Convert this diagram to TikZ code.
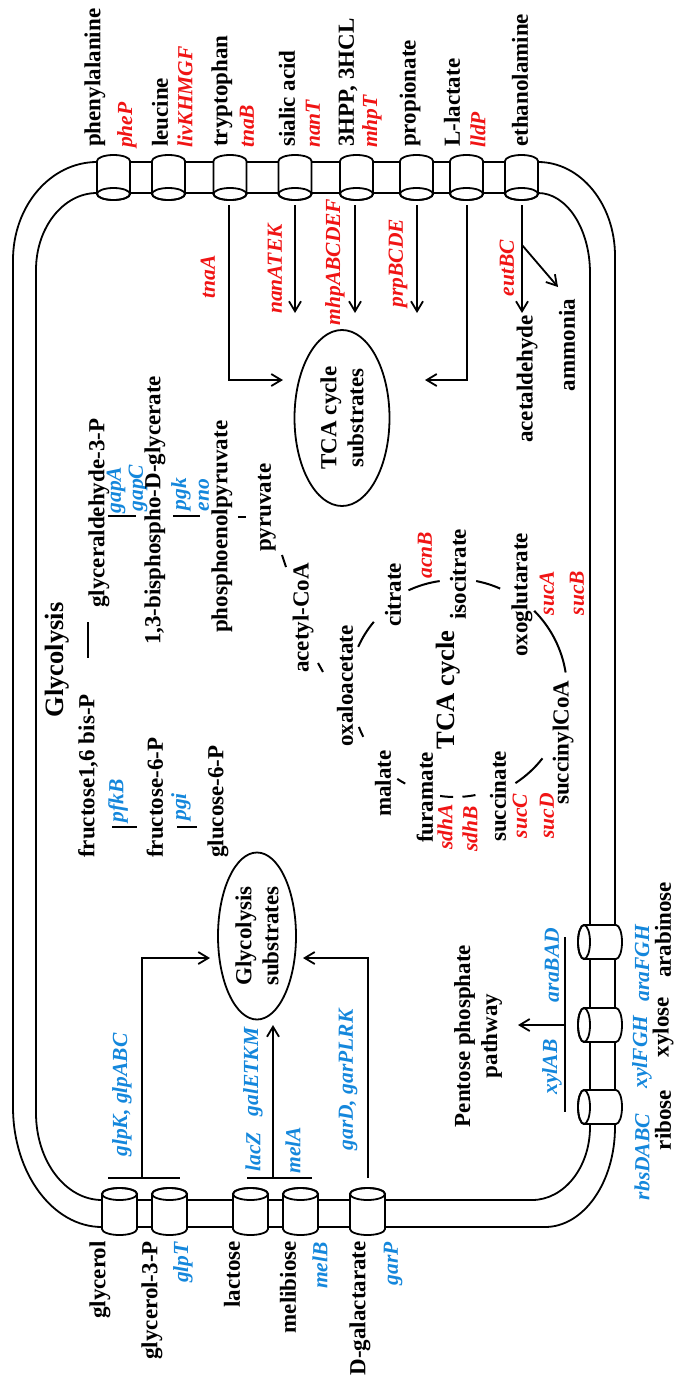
\documentclass[tikz,border=0pt]{standalone}
\usepackage{fontspec}
\setmainfont{Liberation Serif}
\usetikzlibrary{arrows.meta,shapes.geometric,calc}
\definecolor{gred}{RGB}{240,20,20}
\definecolor{gblue}{RGB}{20,135,220}
\newcommand\fName{\fontsize{23}{27}\selectfont\bfseries}
\newcommand\fGene{\fontsize{21.5}{25}\selectfont\bfseries\itshape}
\newcommand\fTitle{\fontsize{26.5}{30}\selectfont\bfseries}
\tikzset{
  memb/.style={line width=1.8pt},
  arr/.style={line width=1.8pt,-{Straight Barb[length=10pt,width=12pt]}},
  bar/.style={line width=2.2pt},
  tick/.style={line width=2pt},
  lbl/.style={rotate=90,inner sep=0pt,font=\fName},
  gene/.style={rotate=90,inner sep=0pt,font=\fGene,text=gred},
  geneb/.style={rotate=90,inner sep=0pt,font=\fGene,text=gblue},
  ttl/.style={rotate=90,inner sep=0pt,font=\fTitle},
  ell/.style={ellipse,draw,line width=1.8pt,rotate=90,inner sep=0pt,align=center,font=\fName}
}
\newcommand\cylTop[1]{%
  \filldraw[memb,fill=white] ({#1-16.5},194) -- ({#1-16.5},161) arc[start angle=180,end angle=360,x radius=16.5,y radius=6] -- ({#1+16.5},194) arc[start angle=0,end angle=180,x radius=16.5,y radius=6] -- cycle;
  \draw[memb] (#1,194) ellipse[x radius=16.5,y radius=6];}
\newcommand\cylBot[1]{%
  \filldraw[memb,fill=white] ({#1-17.5},1194) -- ({#1-17.5},1229) arc[start angle=180,end angle=0,x radius=17.5,y radius=6] -- ({#1+17.5},1194) arc[start angle=0,end angle=-180,x radius=17.5,y radius=6] -- cycle;
  \draw[memb] (#1,1194) ellipse[x radius=17.5,y radius=6];}
\newcommand\cylRight[1]{%
  \filldraw[memb,fill=white] (584,{#1-17}) -- (616,{#1-17}) arc[start angle=-90,end angle=90,x radius=6,y radius=17] -- (584,{#1+17}) arc[start angle=90,end angle=270,x radius=6,y radius=17] -- cycle;
  \draw[memb] (584,#1) ellipse[x radius=6,y radius=17];}
\begin{document}
\begin{tikzpicture}[x=1pt,y=-1pt]
\fill[white] (0,0) rectangle (679,1384);
\useasboundingbox (0,0) rectangle (679,1384);
% membrane
\draw[memb] (97,162) -- (538,162) arc[start angle=-90,end angle=0,x radius=77,y radius=94] -- (615,1127) arc[start angle=0,end angle=90,x radius=70,y radius=100] -- (102,1227) arc[start angle=90,end angle=180,x radius=89,y radius=120] -- (13,260) arc[start angle=180,end angle=270,x radius=84,y radius=98] -- cycle;
\draw[memb] (97,193) -- (538,193) arc[start angle=-90,end angle=0,x radius=52,y radius=80] -- (590,1127) arc[start angle=0,end angle=90,x radius=58,y radius=73] -- (102,1200) arc[start angle=90,end angle=180,x radius=66,y radius=87] -- (36,270) arc[start angle=180,end angle=270,x radius=61,y radius=77] -- cycle;
% transporters
\cylTop{113.5}\cylTop{168.5}\cylTop{230}\cylTop{295}\cylTop{356.5}\cylTop{416.5}\cylTop{466.5}\cylTop{521.5}
\cylBot{119.5}\cylBot{169.5}\cylBot{250.5}\cylBot{300.5}\cylBot{367.5}
\cylRight{942}\cylRight{1025}\cylRight{1107}
% top labels
\node[lbl,anchor=west] (nPhe) at (95,147) {phenylalanine};
\node[gene,anchor=west] (gPheP) at (127,148) {pheP};
\node[lbl,anchor=west] (nLeu) at (160,147) {leucine};
\node[gene,anchor=west] (gLiv) at (185,148) {livKHMGF};
\node[lbl,anchor=west] (nTrp) at (222,147) {tryptophan};
\node[gene,anchor=west] (gTnaB) at (247,148) {tnaB};
\node[lbl,anchor=west] (nSia) at (287,147) {sialic acid};
\node[gene,anchor=west] (gNanT) at (313,148) {nanT};
\node[lbl,anchor=west] (nHpp) at (348,147) {3HPP, 3HCL};
\node[gene,anchor=west] (gMhpT) at (372,148) {mhpT};
\node[lbl,anchor=west] (nPro) at (410,147) {propionate};
\node[lbl,anchor=west] (nLac) at (452,147) {L-lactate};
\node[gene,anchor=west] (gLldP) at (478,148) {lldP};
\node[lbl,anchor=west] (nEth) at (520,147) {ethanolamine};
% TCA substrates
\node[ell,minimum width=176pt,minimum height=95pt] (tca) at (342,418) {TCA cycle\\substrates};
\coordinate (oTrp) at (229,205); \coordinate (iTrp) at (283,380);
\coordinate (oSia) at (295,205); \coordinate (iSia) at (295,313);
\coordinate (oHpp) at (355,205); \coordinate (iHpp) at (355,313);
\coordinate (oPro) at (417,205); \coordinate (iPro) at (417,313);
\coordinate (oLac) at (467,205); \coordinate (iLac) at (425,380);
\coordinate (oEth) at (522,205); \coordinate (iEth) at (522,313);
\coordinate (bEth) at (522,245); \coordinate (iAmm) at (558,287);
\draw[arr] (oTrp) |- (iTrp);
\draw[arr] (oSia) -- (iSia);
\draw[arr] (oHpp) -- (iHpp);
\draw[arr] (oPro) -- (iPro);
\draw[arr] (oLac) |- (iLac);
\draw[arr] (oEth) -- (iEth);
\draw[arr] (bEth) -- (iAmm);
\node[gene] (gTnaA) at (208,277) {tnaA};
\node[gene] (gNan) at (275,269) {nanATEK};
\node[gene] (gMhp) at (335,262) {mhpABCDEF};
\node[gene] (gPrp) at (398,263) {prpBCDE};
\node[gene] (gEut) at (507,268) {eutBC};
\node[lbl] (nAcet) at (527,379) {acetaldehyde};
\node[lbl] (nAmm) at (567,345) {ammonia};
% glycolysis
\node[ttl] (tGly) at (57,660) {Glycolysis};
\node[lbl,anchor=west] (mF16) at (88,858) {fructose1,6 bis-P};
\node[lbl,anchor=west] (mGap) at (99,608) {glyceraldehyde-3-P};
\draw[bar] (88,622) -- (88,658);
\draw[bar] (108,516) -- (136,516);
\node[geneb] (gGapA) at (116,490) {gapA};
\node[geneb] (gGapC) at (138,488) {gapC};
\node[lbl,anchor=west] (mBpg) at (155,645) {1,3-bisphospho-D-glycerate};
\draw[bar] (173,516) -- (200,516);
\node[geneb] (gPgk) at (181,494) {pgk};
\node[geneb] (gEno) at (204,495) {eno};
\node[lbl,anchor=west] (mPep) at (222,633) {phosphoenolpyruvate};
\draw[tick] (238,517) -- (246,517);
\node[lbl,anchor=west] (mPyr) at (267,552) {pyruvate};
\draw[tick] (282,555) -- (286,567);
\node[lbl,anchor=west] (mAcc) at (303,673) {acetyl-CoA};
\draw[tick] (318,663) -- (323,672);
\node[lbl,anchor=west] (mF6) at (155,858) {fructose-6-P};
\node[lbl,anchor=west] (mG6) at (218,858) {glucose-6-P};
\draw[bar] (112,827) -- (137,827);
\node[geneb] (gPfk) at (118,801) {pfkB};
\draw[bar] (177,827) -- (197,827);
\node[geneb] (gPgi) at (181,807) {pgi};
% TCA cycle
\coordinate (tc) at (455,690);
\node[ttl] (tTca) at (448,690) {TCA cycle};
\node[lbl,anchor=west] (mOaa) at (345,747) {oxaloacetate};
\node[lbl,anchor=west] (mCit) at (393,627) {citrate};
\node[gene] (gAcn) at (425,555) {acnB};
\node[lbl,anchor=west] (mIcit) at (458,620) {isocitrate};
\node[lbl,anchor=west] (mOxo) at (522,657) {oxoglutarate};
\node[gene] (gSucA) at (547,593) {sucA};
\node[gene] (gSucB) at (577,593) {sucB};
\node[lbl,anchor=west] (mSca) at (563,805) {succinylCoA};
\node[lbl,anchor=west] (mSuc) at (498,842) {succinate};
\node[gene] (gSucC) at (520,816) {sucC};
\node[gene] (gSucD) at (547,816) {sucD};
\node[lbl,anchor=west] (mFum) at (425,843) {furamate};
\node[gene] (gSdhA) at (445,827) {sdhA};
\node[gene] (gSdhB) at (470,829) {sdhB};
\node[lbl,anchor=west] (mMal) at (383,817) {malate};
\draw[tick] ($(tc)+(204:106)$) arc[start angle=204,end angle=220,radius=106];
\draw[tick] ($(tc)+(245:110)$) arc[start angle=245,end angle=262,radius=110];
\draw[tick] ($(tc)+(281:111)$) arc[start angle=281,end angle=294,radius=111];
\draw[tick] ($(tc)+(315:112)$) arc[start angle=315,end angle=351,radius=112];
\draw[tick] ($(tc)+(38:111)$) arc[start angle=38,end angle=57,radius=111];
\draw[tick] ($(tc)+(79:107)$) arc[start angle=79,end angle=86,radius=107];
\draw[tick] ($(tc)+(91:107)$) arc[start angle=91,end angle=98,radius=107];
\draw[tick] ($(tc)+(118:106)$) arc[start angle=118,end angle=123,radius=106];
\draw[tick] ($(tc)+(153:103)$) arc[start angle=153,end angle=159,radius=103];
% glycolysis substrates
\node[ell,minimum width=167pt,minimum height=78pt] (gly) at (257,936) {Glycolysis\\substrates};
\coordinate (tGl) at (142,1178); \coordinate (eGl) at (210,958);
\coordinate (tLa) at (273,1178); \coordinate (eLa) at (273,1025);
\coordinate (tGa) at (368,1178); \coordinate (eGa) at (303,958);
\draw[memb] (108,1178) -- (180,1178);
\draw[memb] (247,1178) -- (312,1178);
\draw[arr] (tGl) |- (eGl);
\draw[arr] (tLa) -- (eLa);
\draw[arr] (tGa) |- (eGa);
\node[geneb] (gGlp) at (122,1095) {glpK, glpABC};
\node[geneb] (gLacZ) at (253,1152) {lacZ};
\node[geneb] (gGal) at (253,1072) {galETKM};
\node[geneb] (gMelA) at (293,1150) {melA};
\node[geneb] (gGar) at (348,1080) {garD, garPLRK};
% bottom labels
\node[lbl,anchor=east] (nGlyc) at (100,1241) {glycerol};
\node[lbl,anchor=east] (nG3p) at (152,1241) {glycerol-3-P};
\node[geneb,anchor=east] (gGlpT) at (183,1242) {glpT};
\node[lbl,anchor=east] (nLact) at (232,1241) {lactose};
\node[lbl,anchor=east] (nMel) at (288,1241) {melibiose};
\node[geneb,anchor=east] (gMelB) at (320,1242) {melB};
\node[lbl,anchor=east] (nGal) at (360,1241) {D-galactarate};
\node[geneb,anchor=east] (gGarP) at (393,1242) {garP};
% pentose
\node[lbl,align=center,font=\fontsize{23}{27}\selectfont\bfseries] (nPpp) at (478,1036) {Pentose phosphate\\pathway};
\coordinate (pTop) at (565,937); \coordinate (pBot) at (565,1112);
\coordinate (pMid) at (565,1025); \coordinate (pEnd) at (518,1025);
\draw[memb] (pTop) -- (pBot);
\draw[arr] (pMid) -- (pEnd);
\node[geneb] (gAra) at (552,965) {araBAD};
\node[geneb] (gXyl) at (552,1067) {xylAB};
\node[geneb] (gAraF) at (642,963) {araFGH};
\node[geneb] (gXylF) at (642,1052) {xylFGH};
\node[geneb] (gRbs) at (642,1157) {rbsDABC};
\node[lbl] (nAra) at (663,930) {arabinose};
\node[lbl] (nXyl) at (663,1027) {xylose};
\node[lbl] (nRib) at (663,1120) {ribose};
\end{tikzpicture}
\end{document}
